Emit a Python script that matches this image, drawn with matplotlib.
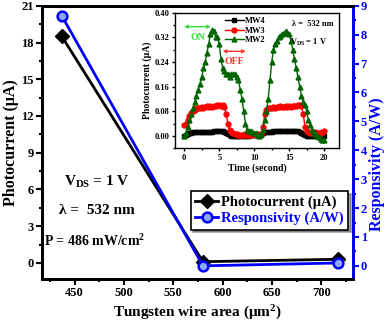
import matplotlib
matplotlib.use("Agg")
import matplotlib.pyplot as plt
from matplotlib.ticker import MultipleLocator, FormatStrFormatter

plt.rcParams['font.family'] = ['Liberation Serif', 'DejaVu Serif']
plt.rcParams['font.weight'] = 'bold'
plt.rcParams['mathtext.fontset'] = 'custom'
plt.rcParams['mathtext.rm'] = 'Liberation Serif:bold'
plt.rcParams['mathtext.it'] = 'Liberation Serif:bold'
plt.rcParams['mathtext.bf'] = 'Liberation Serif:bold'

# main data
area = [437, 580, 717]
photocurrent = [18.5, 0.1, 0.3]
responsivity = [8.65, 0.0, 0.1]

# inset data (time in seconds, photocurrent in uA)
t = [i * 0.25 for i in range(81)]
mw4 = [0.0, 0.003, 0.006, 0.008, 0.010, 0.011, 0.012, 0.012, 0.013, 0.013,
       0.013, 0.013, 0.014, 0.014, 0.014, 0.014, 0.014, 0.015, 0.015, 0.015,
       0.015, 0.015, 0.015, 0.014, 0.010, 0.005, 0.002, 0.001, 0.0, 0.0,
       0.0, 0.0, 0.0, 0.0, 0.0, 0.001, 0.001, 0.001, 0.002, 0.002,
       0.002, 0.002, 0.002, 0.004, 0.002, 0.008, 0.012, 0.013, 0.014, 0.014,
       0.014, 0.015, 0.015, 0.015, 0.015, 0.015, 0.015, 0.015, 0.015, 0.015,
       0.015, 0.015, 0.015, 0.015, 0.015, 0.015, 0.014, 0.010, 0.006, 0.003,
       0.001, 0.0, 0.0, 0.0, 0.0, 0.0, 0.0, 0.0, 0.0, 0.0, 0.0]
mw3 = [0.035, 0.040, 0.050, 0.065, 0.075, 0.080, 0.085, 0.090, 0.090, 0.092,
       0.094, 0.092, 0.095, 0.096, 0.094, 0.097, 0.095, 0.098, 0.096, 0.099,
       0.100, 0.097, 0.100, 0.095, 0.070, 0.040, 0.020, 0.012, 0.008, 0.006,
       0.005, 0.004, 0.004, 0.003, 0.004, 0.005, 0.004, 0.003, 0.004, 0.005,
       0.006, 0.004, 0.005, 0.004, 0.005, 0.030, 0.070, 0.085, 0.090, 0.092,
       0.090, 0.094, 0.092, 0.095, 0.093, 0.096, 0.094, 0.095, 0.097, 0.094,
       0.096, 0.095, 0.097, 0.098, 0.096, 0.099, 0.100, 0.098, 0.070, 0.030,
       0.015, 0.012, 0.010, 0.008, 0.010, 0.012, 0.010, 0.008, 0.010, 0.012,
       0.015]
mw2 = [0.0, 0.010, 0.030, 0.050, 0.070, 0.090, 0.110, 0.130, 0.150, 0.170,
       0.190, 0.220, 0.240, 0.270, 0.300, 0.330, 0.345, 0.340, 0.320, 0.320,
       0.300, 0.250, 0.220, 0.210, 0.200, 0.200, 0.190, 0.200, 0.200, 0.200,
       0.190, 0.180, 0.150, 0.120, 0.080, 0.040, 0.020, 0.015, 0.015, 0.012,
       0.010, 0.008, 0.002, 0.0, 0.005, 0.020, 0.050, 0.080, 0.120, 0.180,
       0.240, 0.280, 0.300, 0.310, 0.320, 0.325, 0.330, 0.335, 0.340, 0.335,
       0.330, 0.310, 0.280, 0.250, 0.220, 0.190, 0.160, 0.130, 0.110, 0.100,
       0.080, 0.050, 0.035, 0.020, 0.012, 0.005, 0.0, -0.005, -0.010, -0.012,
       -0.012]

blue = '#0000ff'
fig = plt.figure(figsize=(3.9, 3.22), dpi=100)
ax = fig.add_axes([0.108, 0.134, 0.797, 0.848])
ax2 = ax.twinx()

l1, = ax.plot(area, photocurrent, color='black', lw=2, marker='D', ms=7,
              label='Photocurrent (\u03bcA)', zorder=3)
l2, = ax2.plot(area, responsivity, color=blue, lw=2, marker='o', ms=7,
               markerfacecolor='#8fa8ff', markeredgecolor=blue, markeredgewidth=1.8,
               label='Responsivity (A/W)')

ax.set_xlim(417, 732)
ax.set_ylim(-1.3, 21)
ax2.set_ylim(-0.45, 9)
ax.xaxis.set_major_locator(MultipleLocator(50))
ax.xaxis.set_minor_locator(MultipleLocator(25))
ax.yaxis.set_major_locator(MultipleLocator(3))
ax.yaxis.set_minor_locator(MultipleLocator(1.5))
ax2.yaxis.set_major_locator(MultipleLocator(1))
ax2.yaxis.set_minor_locator(MultipleLocator(0.5))

for a in (ax, ax2):
    for s in a.spines.values():
        s.set_linewidth(2)
ax2.spines['right'].set_color(blue)
ax.tick_params(which='major', length=4, width=1.5, labelsize=9, direction='out', pad=2)
ax.tick_params(which='minor', length=2, width=1.5, direction='out')
ax2.tick_params(axis='y', which='major', length=4, width=1.5, labelsize=9,
                colors=blue, direction='out', pad=1.5)
ax2.tick_params(axis='y', which='minor', length=2, width=1.5, colors=blue, direction='out')

ax.set_xlabel('Tungsten wire area (\u03bcm$^2$)', fontsize=11, fontweight='bold', labelpad=3)
ax.set_ylabel('Photocurrent (\u03bcA)', fontsize=11.5, fontweight='bold', labelpad=2)
ax2.set_ylabel('Responsivity (A/W)', fontsize=11.5, fontweight='bold', color=blue)
ax2.yaxis.set_label_coords(1.053, 0.42)

ax.text(0.177, 0.355, 'V$_{\\mathrm{DS}}$ = 1 V', transform=ax.transAxes, ha='center',
        va='center', fontsize=11)
ax.text(0.175, 0.25, '\u03bb =  532 nm', transform=ax.transAxes, ha='center',
        va='center', fontsize=11)
ax.text(0.17, 0.14, 'P = 486 mW/cm$^2$', transform=ax.transAxes, ha='center',
        va='center', fontsize=10)

leg = ax2.legend(handles=[l1, l2], loc='lower right', bbox_to_anchor=(0.985, 0.18),
                 fontsize=10.5, frameon=True, fancybox=False, shadow=True,
                 handlelength=1.6, handletextpad=0.2, borderpad=0.3,
                 labelspacing=0.2, borderaxespad=0)
leg.get_frame().set_edgecolor('black')
leg.get_frame().set_linewidth(1.2)
leg.get_texts()[1].set_color(blue)

# inset
ins = fig.add_axes([0.449, 0.540, 0.42, 0.42])
ins.set_zorder(5)
ins.plot(t, mw4, color='black', marker='s', ms=2.5, lw=1, label='MW4')
ins.plot(t, mw3, color='#ff0000', marker='o', ms=3.5, lw=1, label='MW3')
ins.plot(t, mw2, color='#006400', marker='^', ms=3.5, lw=1, label='MW2')
ins.set_xlim(-1.3, 22.1)
ins.set_ylim(-0.04, 0.40)
ins.xaxis.set_major_locator(MultipleLocator(5))
ins.xaxis.set_minor_locator(MultipleLocator(2.5))
ins.yaxis.set_major_locator(MultipleLocator(0.08))
ins.yaxis.set_minor_locator(MultipleLocator(0.04))
ins.yaxis.set_major_formatter(FormatStrFormatter('%.2f'))
ins.tick_params(which='major', length=2.5, width=1, labelsize=6, pad=1.5)
ins.tick_params(which='minor', length=1.5, width=1)
for s in ins.spines.values():
    s.set_linewidth(1)
ins.set_xlabel('Time (second)', fontsize=7, fontweight='bold', labelpad=1)
ins.set_ylabel('Photocurrent (\u03bcA)', fontsize=7, fontweight='bold', labelpad=2)
ins.legend(loc='upper left', bbox_to_anchor=(0.27, 1.01), fontsize=6, frameon=False,
           handlelength=2.2, handletextpad=0.2, labelspacing=0.15, borderpad=0.2)
ins.text(0.97, 0.95, '\u03bb =  532 nm', transform=ins.transAxes, ha='right', va='top',
         fontsize=6)
ins.text(0.93, 0.82, 'V$_{\\mathrm{DS}}$ = 1 V', transform=ins.transAxes, ha='right',
         va='top', fontsize=6)
ins.annotate('', xy=(-0.4, 0.355), xytext=(4.2, 0.355),
             arrowprops=dict(arrowstyle='<->', color='#33dd33', lw=1, mutation_scale=5))
ins.text(1.9, 0.335, 'ON', color='#33dd33', fontsize=7, ha='center', va='top')
ins.annotate('', xy=(5.1, 0.275), xytext=(9.2, 0.275),
             arrowprops=dict(arrowstyle='<->', color='#ff3333', lw=1, mutation_scale=5))
ins.text(7.1, 0.255, 'OFF', color='#ff3333', fontsize=7, ha='center', va='top')

fig.savefig('out.png', dpi=100)
